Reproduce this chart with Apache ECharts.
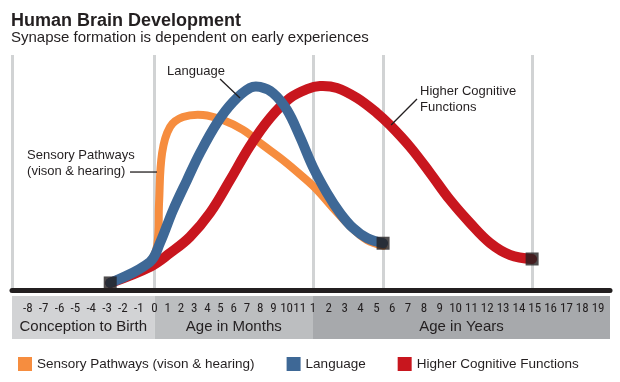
<!DOCTYPE html>
<html><head><meta charset="utf-8">
<script src="https://cdn.jsdelivr.net/npm/echarts@6/dist/echarts.min.js"></script>
<style>html,body{margin:0;padding:0;background:#fff}#c{width:620px;height:382px}</style>
</head><body><div id="c"></div>
<script>
// Ages are in months (negative = before birth); level = relative synapse formation (0..100)
const prenatalTicks = [-8, -7, -6, -5, -4, -3, -2, -1];
const monthTicks = [0, 1, 2, 3, 4, 5, 6, 7, 8, 9, 10, 11];
const yearTicks = [1, 2, 3, 4, 5, 6, 7, 8, 9, 10, 11, 12, 13, 14, 15, 16, 17, 18, 19];
const segmentNames = ['Conception to Birth', 'Age in Months', 'Age in Years'];
const segmentMonths = [[-9, 0], [0, 12], [12, 237]];
const gridlineMonths = [-9, 0, 12, 65.1, 178];
const seriesNames = ['Sensory Pathways (vison & hearing)', 'Language', 'Higher Cognitive Functions'];

const sensory = [[-2.8, 3.0], [-1.2, 7.7], [-0.3, 11.9], [0.2, 19.1], [0.34, 37.0], [0.57, 58.3], [1.17, 69.4],
  [2.15, 73.6], [3.67, 74.5], [5.18, 72.3], [6.7, 68.1], [8.2, 61.7], [9.73, 55.3], [11.25, 48.1],
  [15.1, 42.6], [27.2, 34.9], [40.1, 27.2], [52.9, 21.3], [65.1, 18.9]];
const language = [[-2.8, 3.0], [-0.3, 11.9], [0.41, 20.0], [1.4, 34.0], [2.46, 46.8], [3.44, 58.3], [4.73, 71.1],
  [5.94, 80.0], [7.23, 86.0], [7.99, 86.4], [8.97, 83.8], [10.03, 76.6], [11.02, 65.1], [12.0, 52.3],
  [22.6, 41.3], [32.5, 32.8], [42.3, 26.4], [52.9, 22.1], [65.1, 19.9]];
const higher = [[-2.8, 3.0], [-0.3, 9.8], [1.17, 15.7], [2.68, 22.6], [4.2, 32.8], [5.72, 46.8], [7.23, 61.3],
  [8.75, 73.2], [10.26, 81.7], [11.55, 85.5], [17.3, 86.8], [30.2, 86.0], [45.4, 81.7], [60.5, 75.3],
  [70.3, 70.2], [85.5, 60.9], [100.7, 49.8], [115.8, 38.3], [131, 28.5], [146.1, 20.0], [161.3, 14.9], [178, 13.2]];

// callout annotations (anchors in [month, level])
const annoText = ['Language', 'Sensory Pathways\n(vison & hearing)', 'Higher Cognitive\nFunctions'];
const annoTextAt = [[3.14, 92.8], [-8.05, 53.8], [93.1, 81.3]];
const annoLineFrom = [[4.96, 89.8], [-1.55, 50.2], [90.8, 81.3]];
const annoLineTo = [[6.47, 81.7], [0.185, 50.2], [71.2, 70.2]];

const FONT = "'Liberation Sans', Arial, Helvetica, sans-serif";
const CONDENSED = "'Roboto Condensed', 'Liberation Sans', sans-serif";
const INK = '#231f20';
const COLORS = ['#f68d3f', '#3e6896', '#c8161e'];
const BANDS = ['#d2d3d5', '#bcbec0', '#a7a9ac'];

// broken time axis: prenatal months, postnatal months (first year = 10 units), then 1 unit per year
function pos(m) { if (m <= 0) return m; if (m <= 12) return m * 10 / 12; return 9 + m / 12; }
const xMin = pos(segmentMonths[0][0]), xMax = pos(segmentMonths[2][1]);
const labelMap = {};
prenatalTicks.forEach(m => labelMap[pos(m).toFixed(3)] = String(m));
monthTicks.forEach(m => labelMap[pos(m).toFixed(3)] = String(m));
yearTicks.forEach(y => labelMap[pos(12 * y).toFixed(3)] = String(y));
const tickValues = Object.keys(labelMap).map(Number).sort((a, b) => a - b);
const toXY = arr => arr.map(p => [pos(p[0]), p[1]]);

const curves = [sensory, language, higher];
const zs = [3, 5, 4];
const widths = [8, 10, 10];

// smooth curve through the data points, positioned by the chart's own axes (api.coord)
function curveRenderer(points, color, width) {
  return function (params, api) {
    if (params.dataIndex !== 0) return null;
    const P = points.map(p => api.coord([pos(p[0]), p[1]]));
    const s = 0.38, n = P.length;
    const cp = P.map((p, i) => {
      if (i === 0 || i === n - 1) return [p, p];
      const a = P[i - 1], b = P[i + 1];
      const vx = b[0] - a[0], vy = b[1] - a[1];
      const d0 = Math.hypot(p[0] - a[0], p[1] - a[1]), d1 = Math.hypot(b[0] - p[0], b[1] - p[1]);
      const k0 = s * d0 / (d0 + d1), k1 = s * d1 / (d0 + d1);
      return [[p[0] - vx * k0, p[1] - vy * k0], [p[0] + vx * k1, p[1] + vy * k1]];
    });
    let d = 'M' + P[0][0] + ' ' + P[0][1];
    for (let i = 1; i < n; i++) {
      d += ' C' + cp[i - 1][1][0] + ' ' + cp[i - 1][1][1] + ' ' + cp[i][0][0] + ' ' + cp[i][0][1] + ' ' + P[i][0] + ' ' + P[i][1];
    }
    return {type: 'path', shape: {pathData: d},
      style: {stroke: color, lineWidth: width, fill: 'none', lineCap: 'round', lineJoin: 'round'}};
  };
}

const chart = echarts.init(document.getElementById('c'), null, {renderer: 'canvas'});
const option = {
  animation: false,
  title: {
    text: 'Human Brain Development',
    subtext: 'Synapse formation is dependent on early experiences',
    left: 6, top: 7, itemGap: 0,
    textStyle: {fontFamily: FONT, fontSize: 18, fontWeight: 'bold', color: INK},
    subtextStyle: {fontFamily: FONT, fontSize: 15, color: INK}
  },
  legend: {
    data: seriesNames, left: 13, top: 352, icon: 'rect', itemWidth: 14, itemHeight: 14, itemGap: 32,
    textStyle: {fontFamily: FONT, fontSize: 13.5, color: INK}
  },
  grid: [
    {left: 12, right: 10, top: 55, height: 235},
    {left: 12, right: 10, top: 296, height: 43}
  ],
  xAxis: [
    {type: 'value', gridIndex: 0, min: xMin, max: xMax, z: 10,
      axisLine: {show: true, onZero: false, lineStyle: {color: INK, width: 5}},
      axisTick: {show: false}, splitLine: {show: false},
      axisLabel: {customValues: tickValues, formatter: v => labelMap[Number(v).toFixed(3)] || '',
        margin: 12, fontFamily: CONDENSED, fontSize: 13, color: INK}},
    {type: 'value', gridIndex: 1, min: xMin, max: xMax, show: false}
  ],
  yAxis: [
    {type: 'value', gridIndex: 0, min: 0, max: 100, show: false},
    {type: 'value', gridIndex: 1, min: 0, max: 1, show: false}
  ],
  series: [
    {type: 'line', name: 'bands', xAxisIndex: 1, yAxisIndex: 1, data: [], silent: true, z: 1,
      markArea: {silent: true, z: 1,
        label: {show: true, position: 'insideBottom', distance: 5, fontFamily: FONT, fontSize: 15, color: INK},
        data: segmentMonths.map((s, i) => [{xAxis: pos(s[0]), name: segmentNames[i], itemStyle: {color: BANDS[i]}}, {xAxis: pos(s[1])}])}},
    {type: 'line', name: 'gridlines', xAxisIndex: 0, yAxisIndex: 0, data: [], silent: true, z: 1,
      markLine: {silent: true, z: 1, symbol: ['none', 'none'], label: {show: false},
        lineStyle: {color: '#d1d3d4', width: 3, type: 'solid'},
        data: gridlineMonths.map(m => ({xAxis: pos(m)}))}},
    ...curves.map((c, i) => ({
      type: 'custom', name: seriesNames[i], coordinateSystem: 'cartesian2d', xAxisIndex: 0, yAxisIndex: 0,
      data: toXY(c), encode: {x: 0, y: 1}, clip: false, silent: true, z: zs[i],
      itemStyle: {color: COLORS[i]},
      renderItem: curveRenderer(c, COLORS[i], widths[i])
    })),
    {type: 'scatter', name: 'ends', xAxisIndex: 0, yAxisIndex: 0, symbol: 'rect', symbolSize: 13, z: 10,
      itemStyle: {color: INK}, silent: true,
      data: toXY([sensory[0], language[language.length - 1], higher[higher.length - 1]])}
  ]
};
chart.setOption(option);

const pix = p => chart.convertToPixel({gridIndex: 0}, [pos(p[0]), p[1]]);
const graphics = [];
annoText.forEach((t, i) => {
  const a = pix(annoLineFrom[i]), b = pix(annoLineTo[i]), tp = pix(annoTextAt[i]);
  graphics.push({type: 'line', z: 20, silent: true, shape: {x1: a[0], y1: a[1], x2: b[0], y2: b[1]},
    style: {stroke: INK, lineWidth: 1.3}});
  graphics.push({type: 'text', z: 20, silent: true, x: tp[0], y: tp[1],
    style: {text: t, fill: INK, fontFamily: FONT, fontSize: 13, lineHeight: 16,
      align: i === 0 ? 'center' : 'left', verticalAlign: 'middle'}});
});
chart.setOption({graphic: graphics});
</script></body></html>
